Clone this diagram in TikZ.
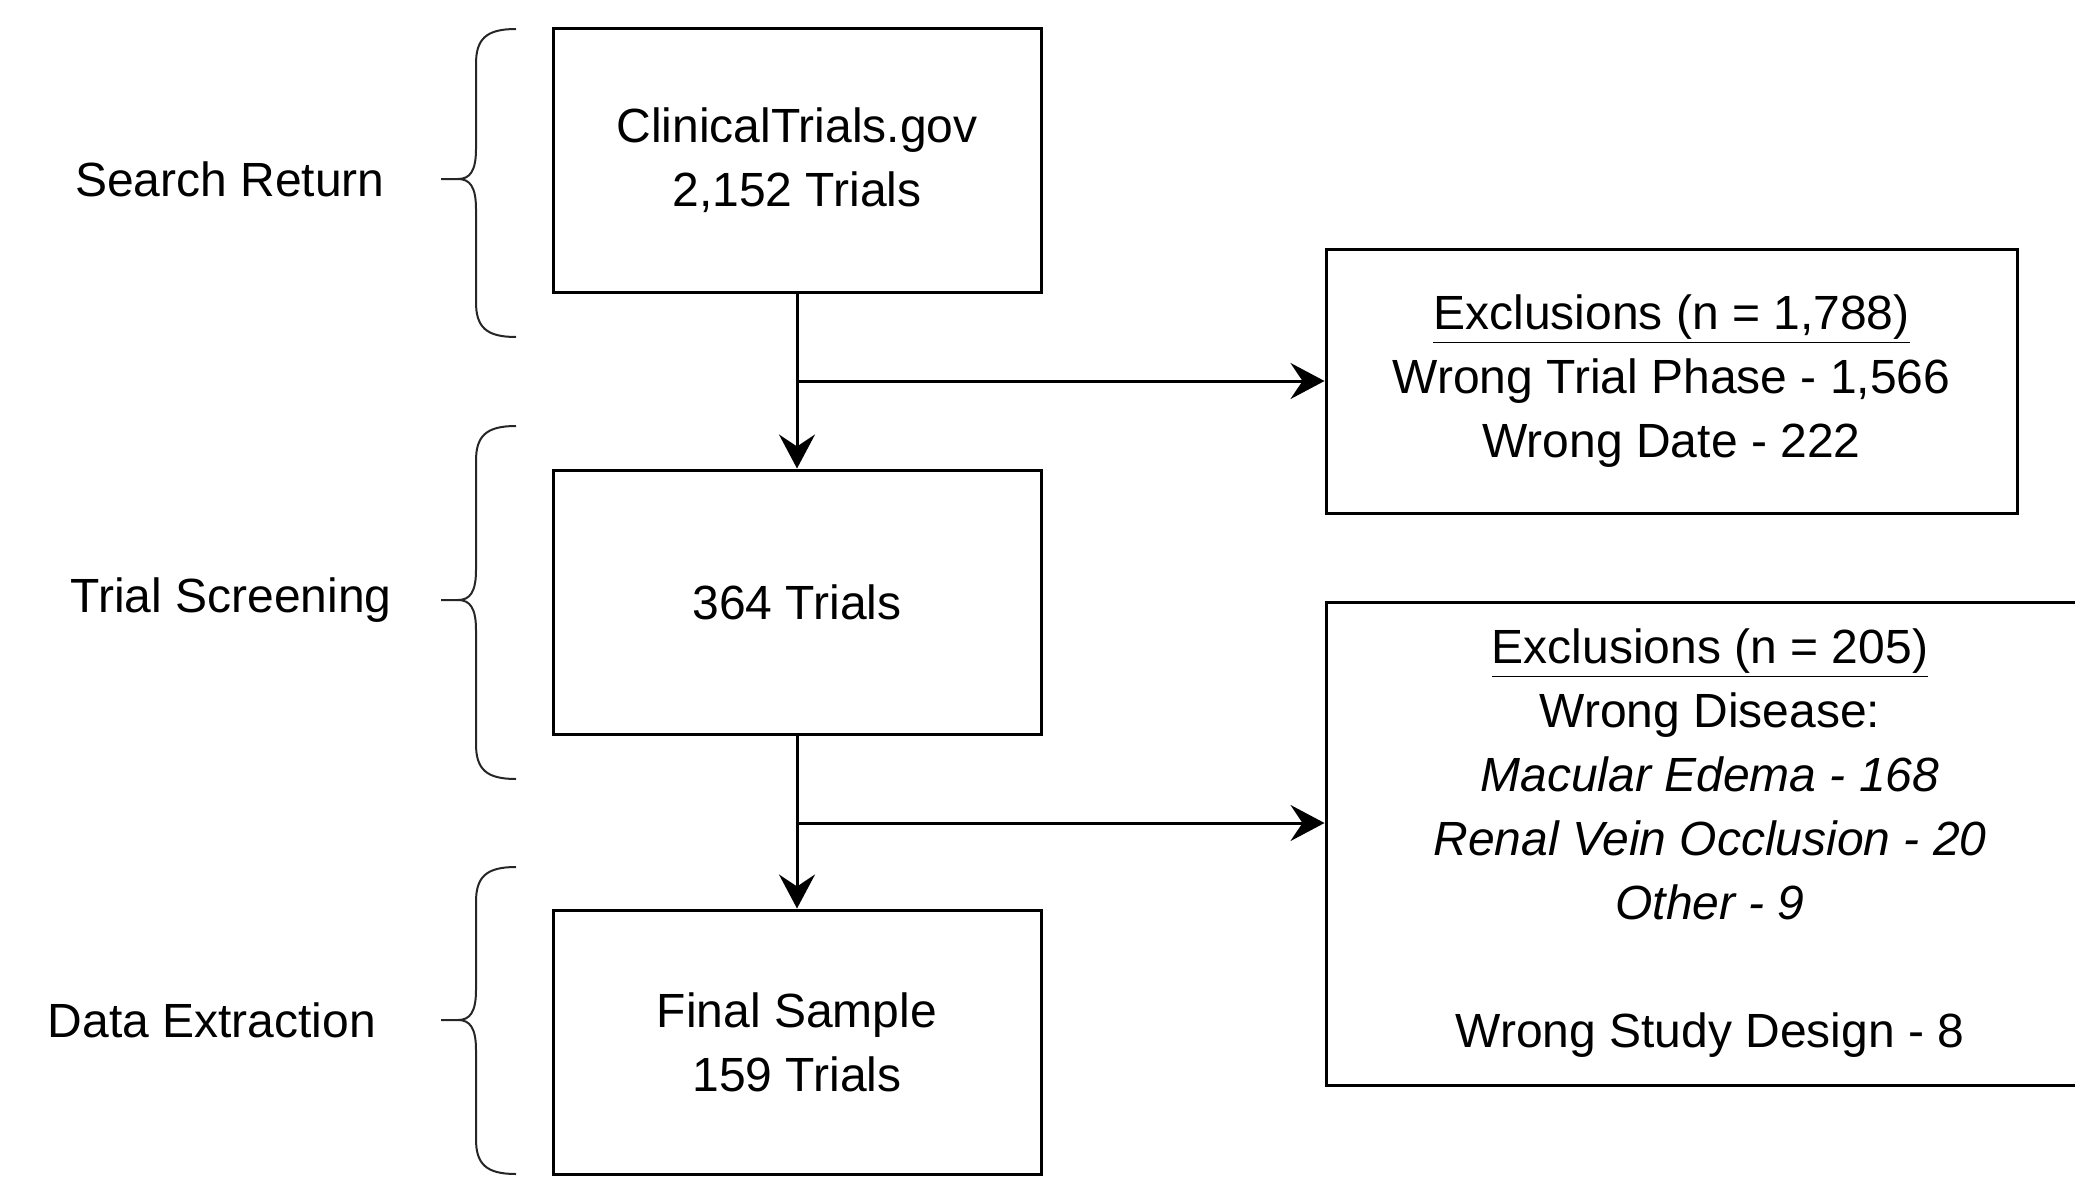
\documentclass[tikz,border=0pt]{standalone}
\usepackage{fontspec}
\setmainfont{Liberation Sans}
\usetikzlibrary{arrows.meta}
\newcommand{\drawbrace}[3]{% top, bottom, middle
  \draw[brc] (516,#1) .. controls (486,#1) and (476,#1+10) .. (476,#1+35)
    -- (476,#3-30) .. controls (476,#3-8) and (470,#3) .. (458,#3) -- (441,#3);
  \draw[brc] (458,#3) .. controls (470,#3) and (476,#3+8) .. (476,#3+30)
    -- (476,#2-35) .. controls (476,#2-10) and (486,#2) .. (516,#2);
}
\begin{document}
\begin{tikzpicture}[x=0.5pt,y=-0.5pt,
  box/.style={draw, line width=1.5pt, align=center, inner sep=0pt, font=\fontsize{24}{32}\selectfont},
  lbl/.style={align=center, font=\fontsize{24}{32}\selectfont},
  flow/.style={line width=1.5pt, -{Stealth[length=17pt,width=18pt,inset=6pt]}},
  brc/.style={line width=1pt, draw=black!85}]
\useasboundingbox (0,0) rectangle (2075,1177);
\clip (0,0) rectangle (2075,1177);
\node[box, minimum width=244pt, minimum height=131.5pt] (b1) at (797,160.5) {ClinicalTrials.gov\\2,152 Trials};
\node[box, minimum width=244pt, minimum height=132pt] (b2) at (797,602) {364 Trials};
\node[box, minimum width=244pt, minimum height=132pt] (b3) at (797,1042) {Final Sample\\159 Trials};
\node[box, minimum width=345.5pt, minimum height=132pt] (e1) at (1671.5,381) {\underline{Exclusions (n = 1,788)}\\Wrong Trial Phase - 1,566\\Wrong Date - 222};
\node[box, minimum width=384pt, minimum height=241.5pt] (e2) at (1710,843.5) {\underline{Exclusions (n = 205)}\\Wrong Disease:\\\textit{Macular Edema - 168}\\\textit{Renal Vein Occlusion - 20}\\\textit{Other - 9}\\[32pt]Wrong Study Design - 8};
\draw[flow] (b1) -- (b2);
\draw[flow] (b2) -- (b3);
\coordinate (j1) at (b1.south |- e1.west);
\coordinate (j2) at (797,823);
\draw[flow] (j1) -- (e1.west);
\draw[flow] (j2) -- (e2.west |- j2);
\drawbrace{29}{337}{179}
\drawbrace{426}{779}{600}
\drawbrace{867}{1174}{1020}
\node[lbl] (l1) at (230,179) {Search Return};
\node[lbl] (l2) at (231,600) {Trial Screening};
\node[lbl] (l3) at (212,1020) {Data Extraction};
\end{tikzpicture}
\end{document}
